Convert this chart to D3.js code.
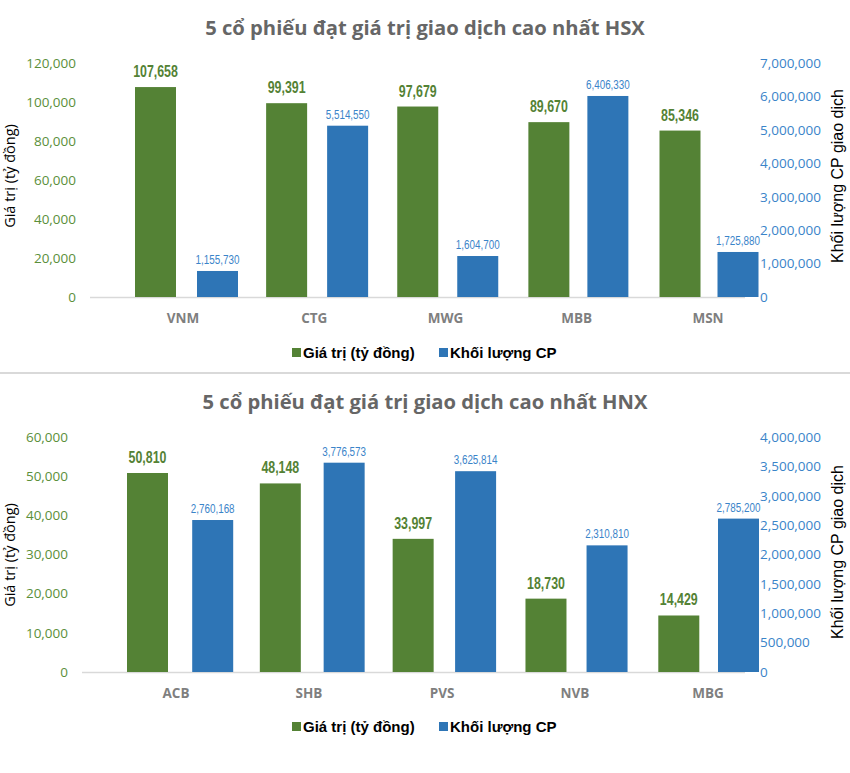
<!DOCTYPE html>
<html><head><meta charset="utf-8">
<script src="https://cdn.jsdelivr.net/npm/d3@7"></script>
<style>
body{margin:0;background:#fff;}
svg{display:block;}
</style></head>
<body>
<svg id="c" width="850" height="773"></svg>
<script>
// ---- Data ----
const hsxCategories = ["VNM","CTG","MWG","MBB","MSN"];
const hsxValue = [107658, 99391, 97679, 89670, 85346];
const hsxVolume = [1155730, 5514550, 1604700, 6406330, 1725880];
const hsxLeftTicks = [0,20000,40000,60000,80000,100000,120000];
const hsxRightTicks = [0,1000000,2000000,3000000,4000000,5000000,6000000,7000000];

const hnxCategories = ["ACB","SHB","PVS","NVB","MBG"];
const hnxValue = [50810, 48148, 33997, 18730, 14429];
const hnxVolume = [2760168, 3776573, 3625814, 2310810, 2785200];
const hnxLeftTicks = [0,10000,20000,30000,40000,50000,60000];
const hnxRightTicks = [0,500000,1000000,1500000,2000000,2500000,3000000,3500000,4000000];

const titles = ["5 cổ phiếu đạt giá trị giao dịch cao nhất HSX","5 cổ phiếu đạt giá trị giao dịch cao nhất HNX"];
const seriesNames = ["Giá trị (tỷ đồng)","Khối lượng CP"];
const leftAxisTitle = "Giá trị (tỷ đồng)";
const rightAxisTitle = "Khối lượng CP giao dịch";

const GREEN = "#548235", BLUE = "#2E75B6";
const fmt = d3.format(",");
const svg = d3.select("#c");
const ARIAL = "'Liberation Sans',Arial,sans-serif";
const BODY = "'Open Sans','Noto Sans',sans-serif";
const BW = 41;

function condense(sel, k){
  sel.each(function(){
    const w = this.getComputedTextLength();
    d3.select(this).attr("textLength", w*k).attr("lengthAdjust","spacingAndGlyphs");
  });
}

function drawChart(cfg){
  const g = svg.append("g");
  const y0 = cfg.y0, yTop = cfg.yTop;
  const yL = d3.scaleLinear().domain([0, d3.max(cfg.leftTicks)]).range([y0, yTop]);
  const yR = d3.scaleLinear().domain([0, d3.max(cfg.rightTicks)]).range([y0, yTop]);
  // the blue bars in the source sit on a slightly shifted secondary scale
  const yB = d3.scaleLinear().domain(cfg.barDomain).range([y0, yTop]);
  const xC = d3.scalePoint().domain(cfg.cats).range(cfg.labelRange);
  const xG = d3.scalePoint().domain(cfg.cats).range(cfg.greenRange);
  const xB = d3.scalePoint().domain(cfg.cats).range(cfg.blueRange);

  // title
  g.append("text").attr("x",425).attr("y",cfg.titleY).attr("text-anchor","middle")
    .attr("font-family",BODY).attr("font-weight",700).attr("font-size",20.2).attr("fill","#666")
    .text(cfg.title);

  // axes
  const la = g.append("g").attr("transform",`translate(${cfg.leftAxisX},0)`)
    .call(d3.axisLeft(yL).tickValues(cfg.leftTicks).tickFormat(fmt).tickSize(0).tickPadding(0));
  la.select(".domain").remove();
  la.selectAll("text").attr("font-family",BODY).attr("font-size",13.5).attr("fill","#5B8F3A");

  const ra = g.append("g").attr("transform",`translate(760,0)`)
    .call(d3.axisRight(yR).tickValues(cfg.rightTicks).tickFormat(fmt).tickSize(0).tickPadding(0));
  ra.select(".domain").remove();
  ra.selectAll("text").attr("font-family",BODY).attr("font-size",13.5).attr("fill","#3A84C9");

  // baseline
  g.append("line").attr("x1",cfg.baseX0).attr("x2",745).attr("y1",y0+0.5).attr("y2",y0+0.5)
    .attr("stroke","#d9d9d9").attr("stroke-width",1.5);

  // green bars + labels
  g.selectAll("rect.v").data(cfg.cats).enter().append("rect")
    .attr("x",d=>xG(d)-BW/2).attr("width",BW)
    .attr("y",(d,i)=>yL(cfg.vals[i])).attr("height",(d,i)=>y0-yL(cfg.vals[i])).attr("fill",GREEN);
  g.selectAll("text.v").data(cfg.cats).enter().append("text")
    .attr("x",d=>xG(d)).attr("y",(d,i)=>yL(cfg.vals[i])-10)
    .attr("text-anchor","middle").attr("font-family",ARIAL).attr("font-weight",700).attr("font-size",16.5)
    .attr("fill",GREEN).text((d,i)=>fmt(cfg.vals[i])).call(condense,0.75);

  // blue bars + labels
  g.selectAll("rect.q").data(cfg.cats).enter().append("rect")
    .attr("x",d=>xB(d)-BW/2).attr("width",BW)
    .attr("y",(d,i)=>yB(cfg.vols[i])).attr("height",(d,i)=>y0-yB(cfg.vols[i])).attr("fill",BLUE);
  g.selectAll("text.q").data(cfg.cats).enter().append("text")
    .attr("x",d=>xB(d)).attr("y",(d,i)=>yB(cfg.vols[i])-7)
    .attr("text-anchor","middle").attr("font-family",ARIAL).attr("font-size",12)
    .attr("fill","#3A84C9").text((d,i)=>fmt(cfg.vols[i])).call(condense,0.82);

  // category labels
  g.selectAll("text.cat").data(cfg.cats).enter().append("text")
    .attr("x",d=>xC(d)).attr("y",y0+26).attr("text-anchor","middle")
    .attr("font-family",BODY).attr("font-weight",700).attr("font-size",13.5).attr("fill","#7F7F7F")
    .text(d=>d);

  // axis titles
  g.append("text").attr("transform",`translate(15,${cfg.leftTitleY}) rotate(-90)`).attr("text-anchor","middle")
    .attr("font-family",BODY).attr("font-size",14.5).attr("fill","#000").text(leftAxisTitle);
  g.append("text").attr("transform",`translate(843,${cfg.rightTitleY}) rotate(-90)`).attr("text-anchor","middle")
    .attr("font-family",ARIAL).attr("font-size",16).attr("fill","#000").text(rightAxisTitle);

  // legend
  const lg = g.append("g").attr("transform",`translate(0,${cfg.legendY})`);
  const items = [{n:seriesNames[0],c:GREEN,x:292},{n:seriesNames[1],c:BLUE,x:439}];
  items.forEach(it=>{
    lg.append("rect").attr("x",it.x).attr("y",-5).attr("width",9).attr("height",9).attr("fill",it.c);
    lg.append("text").attr("x",it.x+11).attr("y",5).attr("font-family",ARIAL)
      .attr("font-weight",700).attr("font-size",15).attr("fill","#000").text(it.n);
  });
}

drawChart({title:titles[0], cats:hsxCategories, vals:hsxValue, vols:hsxVolume,
  leftTicks:hsxLeftTicks, rightTicks:hsxRightTicks, barDomain:[375000,7395700],
  y0:297, yTop:63, titleY:35,
  labelRange:[183,708], greenRange:[155.5,680], blueRange:[217.5,738],
  leftAxisX:76, baseX0:90, leftTitleY:176, rightTitleY:176, legendY:353});

svg.append("line").attr("x1",0).attr("x2",850).attr("y1",373).attr("y2",373)
  .attr("stroke","#d9d9d9").attr("stroke-width",2);

drawChart({title:titles[1], cats:hnxCategories, vals:hnxValue, vols:hnxVolume,
  leftTicks:hnxLeftTicks, rightTicks:hnxRightTicks, barDomain:[65600,4232000],
  y0:672, yTop:437, titleY:409,
  labelRange:[176,708], greenRange:[147.5,678.8], blueRange:[212.7,738.5],
  leftAxisX:68, baseX0:82, leftTitleY:555, rightTitleY:552, legendY:727});
</script>
</body></html>
